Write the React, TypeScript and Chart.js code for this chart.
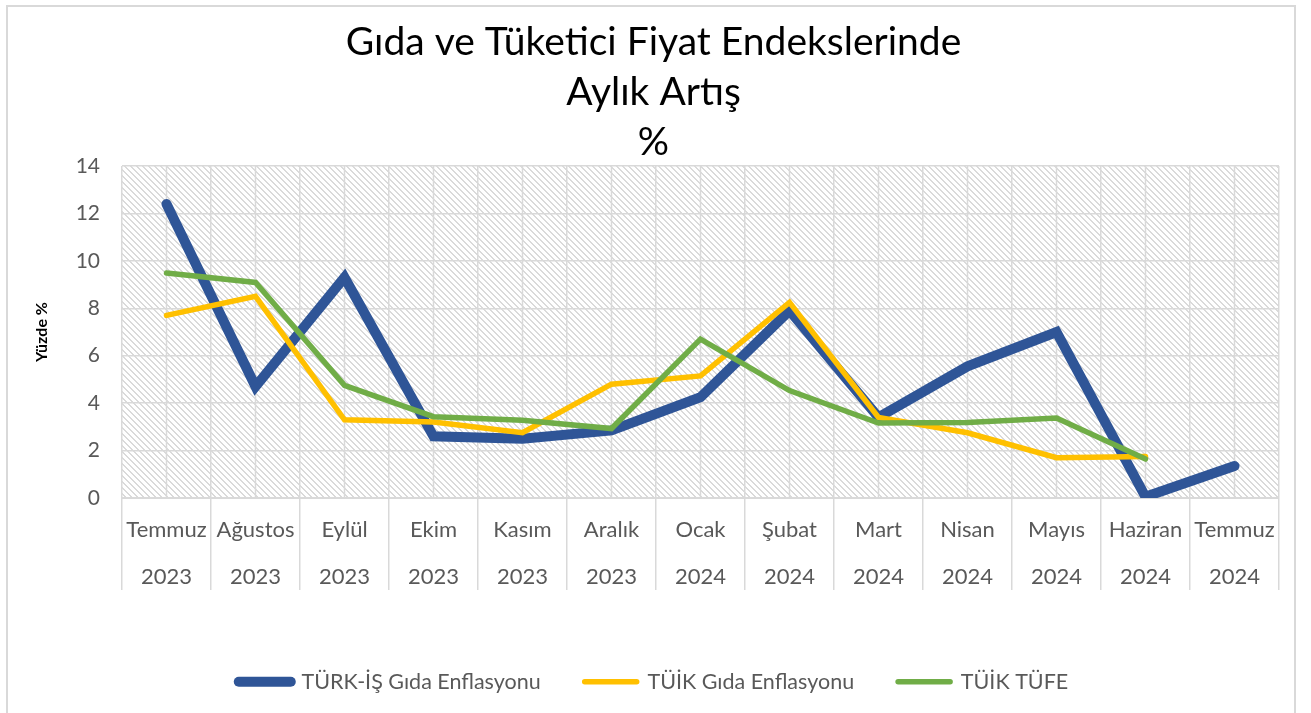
import React, { useEffect, useRef } from 'react';
import { Chart, registerables } from 'chart.js';

Chart.register(...registerables);

const months = ['Temmuz', 'Ağustos', 'Eylül', 'Ekim', 'Kasım', 'Aralık', 'Ocak', 'Şubat', 'Mart', 'Nisan', 'Mayıs', 'Haziran', 'Temmuz'];
const years = ['2023', '2023', '2023', '2023', '2023', '2023', '2024', '2024', '2024', '2024', '2024', '2024', '2024'];

const turkIsFood = [12.4, 4.7, 9.3, 2.6, 2.5, 2.85, 4.25, 7.9, 3.4, 5.55, 7.0, 0.05, 1.35];
const tuikFood = [7.7, 8.5, 3.3, 3.2, 2.75, 4.8, 5.15, 8.25, 3.4, 2.75, 1.7, 1.75, null];
const tuikCpi = [9.49, 9.09, 4.75, 3.43, 3.28, 2.93, 6.7, 4.53, 3.16, 3.18, 3.37, 1.64, null];

const seriesNames = ['TÜRK-İŞ Gıda Enflasyonu', 'TÜİK Gıda Enflasyonu', 'TÜİK TÜFE'];
const titleLines = ['Gıda ve Tüketici Fiyat Endekslerinde', 'Aylık Artış', '%'];
const yTitle = 'Yüzde %';

const FONT = 'Lato';
const GRID = '#d9d9d9';
const TEXT = '#595959';
const LEGEND_PAD = 44;

function makeHatch(ctx: CanvasRenderingContext2D) {
  const n = 6;
  const c = document.createElement('canvas');
  c.width = n;
  c.height = n;
  const p = c.getContext('2d')!;
  p.fillStyle = '#ffffff';
  p.fillRect(0, 0, n, n);
  p.fillStyle = '#dadada';
  for (let y = 0; y < n; y++) {
    p.fillRect(y % n, y, 1, 1);
    p.fillRect((y + 1) % n, y, 1, 1);
  }
  return ctx.createPattern(c, 'repeat');
}

const decorPlugin = {
  id: 'decor',
  afterInit(chart: any) {
    const lg = chart.legend;
    if (lg && !lg.__patched) {
      const orig = lg.fit.bind(lg);
      lg.fit = function () {
        orig();
        this.height = 80;
      };
      lg.__patched = true;
    }
  },
  beforeDraw(chart: any) {
    const { ctx, chartArea } = chart;
    ctx.save();
    ctx.fillStyle = '#ffffff';
    ctx.fillRect(0, 0, chart.width, chart.height);
    ctx.strokeStyle = GRID;
    ctx.lineWidth = 2;
    ctx.strokeRect(7, 6, 1288, 760);
    const pat = makeHatch(ctx);
    if (pat) {
      ctx.fillStyle = pat;
      ctx.fillRect(chartArea.left, chartArea.top, chartArea.right - chartArea.left, chartArea.bottom - chartArea.top);
    }
    ctx.restore();
  },
  beforeDatasetsDraw(chart: any) {
    const { ctx, chartArea } = chart;
    const xs = chart.scales.x;
    ctx.save();
    ctx.strokeStyle = GRID;
    ctx.lineWidth = 1.5;
    for (let i = 0; i < months.length; i++) {
      const x = xs.getPixelForValue(i);
      ctx.beginPath();
      ctx.moveTo(x, chartArea.top);
      ctx.lineTo(x, chartArea.bottom);
      ctx.stroke();
    }
    ctx.restore();
  },
};

export default function App() {
  const ref = useRef<HTMLCanvasElement | null>(null);

  useEffect(() => {
    if (!ref.current) return;
    const labels = months.map((m, i) => [m, years[i]]);
    const chart = new Chart(ref.current, {
      type: 'line',
      data: {
        labels,
        datasets: [
          {
            label: seriesNames[0],
            data: turkIsFood,
            borderColor: '#2F5597',
            backgroundColor: '#2F5597',
            borderWidth: 10,
            borderCapStyle: 'round',
            borderJoinStyle: 'miter',
            pointRadius: 0,
            tension: 0,
            order: 3,
            clip: 0,
          },
          {
            label: seriesNames[1],
            data: tuikFood,
            borderColor: '#FFC000',
            backgroundColor: '#FFC000',
            borderWidth: 5.5,
            borderCapStyle: 'round',
            pointRadius: 0,
            tension: 0,
            order: 2,
            clip: 0,
          },
          {
            label: seriesNames[2],
            data: tuikCpi,
            borderColor: '#70AD47',
            backgroundColor: '#70AD47',
            borderWidth: 5.5,
            borderCapStyle: 'round',
            pointRadius: 0,
            tension: 0,
            order: 1,
            clip: 0,
          },
        ],
      },
      options: {
        animation: false,
        responsive: true,
        maintainAspectRatio: false,
        layout: { padding: { left: 28, right: 32, top: 0, bottom: 6 } },
        plugins: {
          title: {
            display: true,
            text: titleLines,
            color: '#000000',
            font: { family: FONT, size: 39, weight: 'normal', lineHeight: 50 / 39 },
            padding: { top: 17, bottom: -1 },
          },
          legend: {
            position: 'bottom',
            labels: {
              usePointStyle: true,
              pointStyle: 'line',
              pointStyleWidth: 52,
              color: TEXT,
              font: { family: FONT, size: 21.5 },
              padding: LEGEND_PAD,
              sort: (a: any, b: any) => a.datasetIndex - b.datasetIndex,
              generateLabels: (chart: any) => {
                const items = Chart.defaults.plugins.legend.labels.generateLabels(chart);
                return items.map((it: any) => ({ ...it, pointStyle: 'line', lineCap: 'round' }));
              },
            },
          },
          tooltip: { enabled: false },
        },
        scales: {
          x: {
            type: 'category',
            offset: true,
            grid: {
              offset: true,
              color: GRID,
              lineWidth: 1.5,
              drawTicks: true,
              tickLength: 92,
              tickColor: GRID,
            },
            border: { display: true, color: GRID, width: 2 },
            ticks: {
              color: TEXT,
              font: { family: FONT, size: 22, lineHeight: 47 / 22 },
              padding: -83.5,
              maxRotation: 0,
              minRotation: 0,
              autoSkip: false,
            },
            afterFit: (scale: any) => {
              scale.height = 129;
            },
          },
          y: {
            min: 0,
            max: 14,
            ticks: {
              stepSize: 2,
              color: TEXT,
              font: { family: FONT, size: 21 },
              padding: 22,
            },
            grid: { color: GRID, lineWidth: 1.5, drawTicks: false },
            border: { display: false },
            title: {
              display: true,
              text: yTitle,
              color: '#000000',
              font: { family: FONT, size: 16, weight: 'bold', lineHeight: 1.2 },
              padding: { top: 4.5, bottom: 0 },
            },
            afterFit: (scale: any) => {
              scale.width = 94;
            },
          },
        },
      },
      plugins: [decorPlugin],
    } as any);
    return () => chart.destroy();
  }, []);

  return (
    <div style={{ position: 'fixed', left: 0, top: 0, width: 1311, height: 713, background: '#fff' }}>
      <canvas ref={ref} />
    </div>
  );
}
